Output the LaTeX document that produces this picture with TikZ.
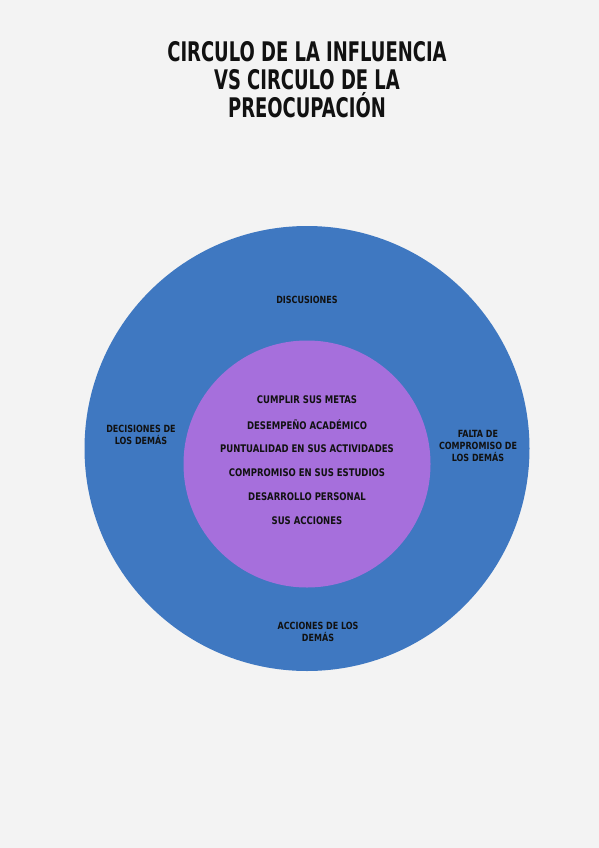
\documentclass[tikz,border=0pt]{standalone}
\usepackage{fontspec}
\newfontfamily\hand[FakeStretch=0.9]{DejaVu Sans Condensed}
\newfontfamily\handtitle[FakeStretch=0.74]{DejaVu Sans Condensed}
\definecolor{bg}{HTML}{F3F3F3}
\definecolor{outerblue}{HTML}{3F78C1}
\definecolor{innerpurple}{HTML}{A66FDC}
\definecolor{ink}{HTML}{111111}
\begin{document}
\begin{tikzpicture}[x=1pt,y=-1pt,
  titletext/.style={font=\handtitle\bfseries\fontsize{27}{28}\selectfont, text=ink, align=center, inner sep=0pt},
  innertext/.style={font=\hand\bfseries\fontsize{10.5}{12}\selectfont, text=ink, inner sep=0pt},
  outertext/.style={font=\hand\bfseries\fontsize{9.9}{12}\selectfont, text=ink, align=center, inner sep=0pt}]
\fill[bg] (0,0) rectangle (599,848);
\useasboundingbox (0,0) rectangle (599,848);
\node[titletext] (title) at (307,80) {CIRCULO DE LA INFLUENCIA\\VS CIRCULO DE LA\\PREOCUPACIÓN};
\fill[outerblue] (307,448.5) circle (222.5);
\fill[innerpurple] (307,464) circle (123.5);
\node[outertext] (disc) at (307,300) {DISCUSIONES};
\node[outertext] (deci) at (141,435) {DECISIONES DE\\LOS DEMÁS};
\node[outertext] (falta) at (478,446) {FALTA DE\\COMPROMISO DE\\LOS DEMÁS};
\node[outertext] (acc) at (318,632) {ACCIONES DE LOS\\DEMÁS};
\node[innertext] (i1) at (307,400) {CUMPLIR SUS METAS};
\node[innertext] (i2) at (307,424.5) {DESEMPEÑO ACADÉMICO};
\node[innertext] (i3) at (307,448.5) {PUNTUALIDAD EN SUS ACTIVIDADES};
\node[innertext] (i4) at (307,473) {COMPROMISO EN SUS ESTUDIOS};
\node[innertext] (i5) at (307,497) {DESARROLLO PERSONAL};
\node[innertext] (i6) at (307,521) {SUS ACCIONES};
\end{tikzpicture}
\end{document}
